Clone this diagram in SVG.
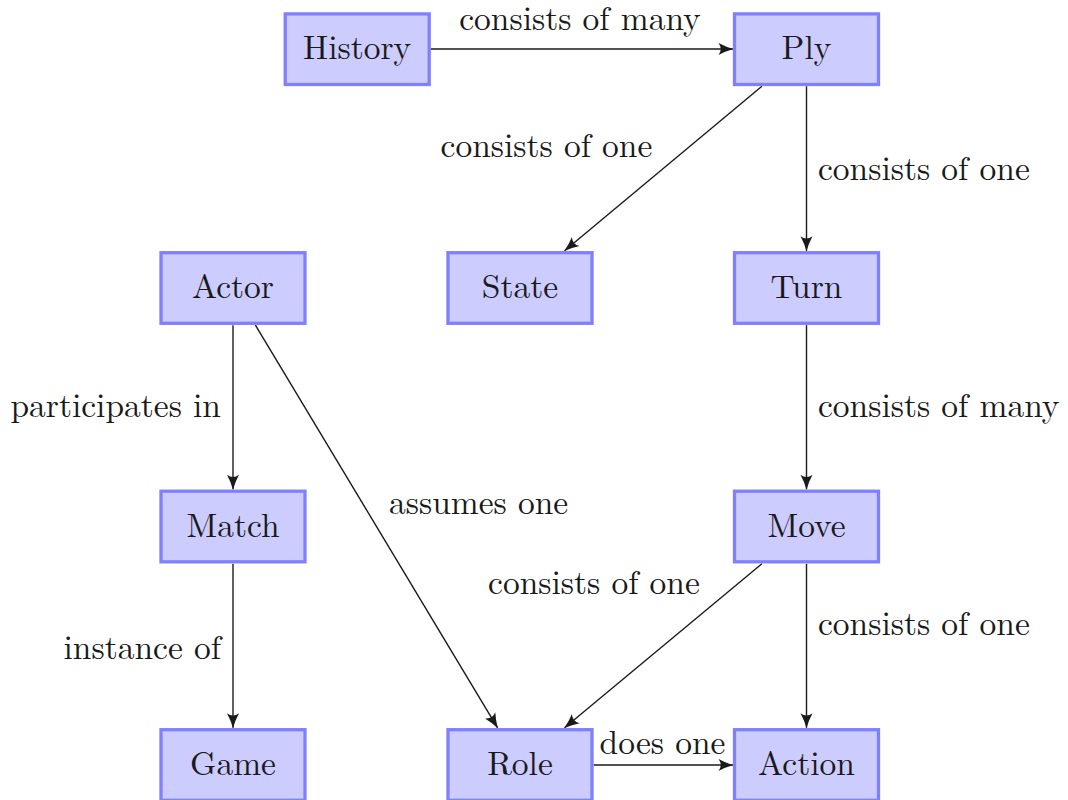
<svg xmlns="http://www.w3.org/2000/svg" width="1068" height="800" viewBox="0 0 1068 800">
  <defs>
    <marker id="arrow" markerUnits="userSpaceOnUse" markerWidth="20" markerHeight="16" refX="0" refY="0" viewBox="-16 -8 20 16" orient="auto" overflow="visible">
      <path d="M0.5,0 Q-7,-2 -14.5,-6 Q-10,0 -14.5,6 Q-7,2 0.5,0 Z" fill="#1a1a1a"/>
    </marker>
  </defs>
  <style>
    .node rect { fill: #ccccff; stroke: #8080ff; stroke-width: 3.3; }
    .node text { text-anchor: middle; }
    .edges line { stroke: #1a1a1a; stroke-width: 1.4; marker-end: url(#arrow); }
  </style>
  <rect width="1068" height="800" fill="#ffffff"/>

  <!-- connectors -->
  <g id="edges" class="edges">
    <line x1="430.7" y1="49" x2="733" y2="49"/>
    <line x1="761.9" y1="86.2" x2="564.6" y2="250.8"/>
    <line x1="806.5" y1="86.2" x2="806.5" y2="250.8"/>
    <line x1="806.5" y1="325.2" x2="806.5" y2="489.3"/>
    <line x1="233" y1="325.2" x2="233" y2="489.3"/>
    <line x1="255.4" y1="325.2" x2="497.6" y2="727.8"/>
    <line x1="233" y1="563.7" x2="233" y2="727.8"/>
    <line x1="761.9" y1="563.7" x2="564.6" y2="727.8"/>
    <line x1="806.5" y1="563.7" x2="806.5" y2="727.8"/>
    <line x1="593.5" y1="765" x2="733" y2="765"/>
  </g>

  <g font-family="'Latin Modern Roman', FreeSerif, 'Liberation Serif', serif" font-size="33.5" fill="#1a1a1a">
    <!-- connector labels -->
    <g id="labels">
      <text x="580" y="30" text-anchor="middle">consists of many</text>
      <text x="546.5" y="157" text-anchor="middle">consists of one</text>
      <text x="818" y="180">consists of one</text>
      <text x="818" y="417">consists of many</text>
      <text x="221" y="417" text-anchor="end">participates in</text>
      <text x="389" y="514">assumes one</text>
      <text x="594" y="594" text-anchor="middle">consists of one</text>
      <text x="818" y="635">consists of one</text>
      <text x="221" y="659" text-anchor="end">instance of</text>
      <text x="662.5" y="754" text-anchor="middle">does one</text>
    </g>

    <!-- nodes -->
    <g id="history" class="node"><rect x="285.2" y="13.9" width="144" height="70.6"/><text x="357.2" y="59">History</text></g>
    <g id="ply" class="node"><rect x="734.5" y="13.9" width="144" height="70.6"/><text x="806.5" y="59">Ply</text></g>
    <g id="actor" class="node"><rect x="161" y="252.7" width="144" height="70.6"/><text x="233" y="298">Actor</text></g>
    <g id="state" class="node"><rect x="448" y="252.7" width="144" height="70.6"/><text x="520" y="298">State</text></g>
    <g id="turn" class="node"><rect x="734.5" y="252.7" width="144" height="70.6"/><text x="806.5" y="298">Turn</text></g>
    <g id="match" class="node"><rect x="161" y="491.2" width="144" height="70.6"/><text x="233" y="536.5">Match</text></g>
    <g id="move" class="node"><rect x="734.5" y="491.2" width="144" height="70.6"/><text x="806.5" y="536.5">Move</text></g>
    <g id="game" class="node"><rect x="161" y="729.7" width="144" height="70.6"/><text x="233" y="775">Game</text></g>
    <g id="role" class="node"><rect x="448" y="729.7" width="144" height="70.6"/><text x="520" y="775">Role</text></g>
    <g id="action" class="node"><rect x="734.5" y="729.7" width="144" height="70.6"/><text x="806.5" y="775">Action</text></g>
  </g>
</svg>
